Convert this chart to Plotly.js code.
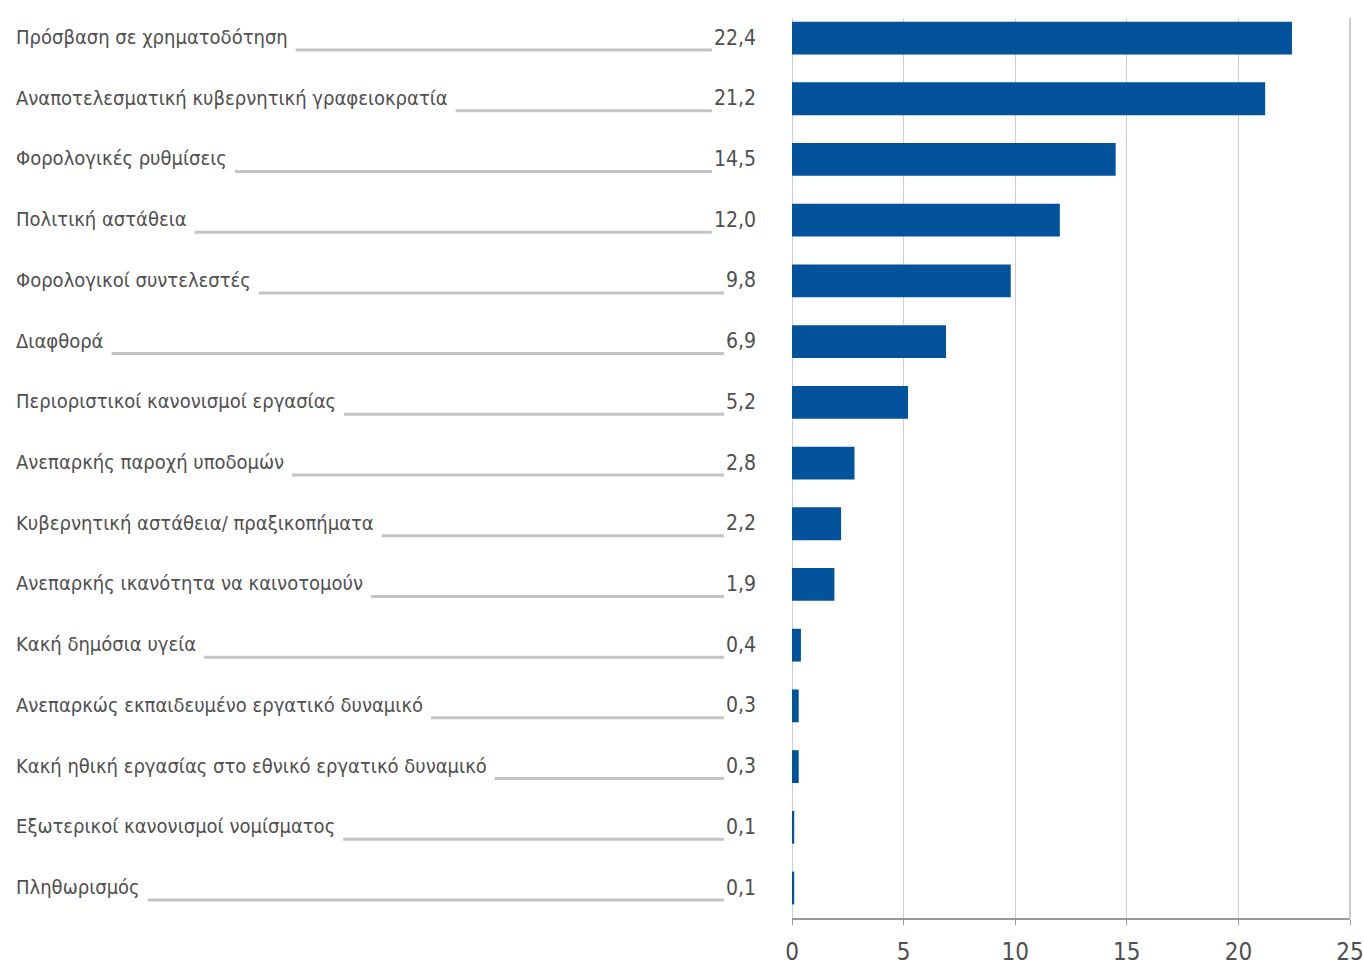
<!DOCTYPE html>
<html>
<head>
<meta charset="utf-8">
<script src="https://cdn.plot.ly/plotly-3.0.1.min.js"></script>
<style>html,body{margin:0;padding:0;background:#fff;}#chart{width:1364px;height:976px;}</style>
</head>
<body>
<div id="chart"></div>
<script>
const categories = [
  "Πρόσβαση σε χρηματοδότηση",
  "Αναποτελεσματική κυβερνητική γραφειοκρατία",
  "Φορολογικές ρυθμίσεις",
  "Πολιτική αστάθεια",
  "Φορολογικοί συντελεστές",
  "Διαφθορά",
  "Περιοριστικοί κανονισμοί εργασίας",
  "Ανεπαρκής παροχή υποδομών",
  "Κυβερνητική αστάθεια/ πραξικοπήματα",
  "Ανεπαρκής ικανότητα να καινοτομούν",
  "Κακή δημόσια υγεία",
  "Ανεπαρκώς εκπαιδευμένο εργατικό δυναμικό",
  "Κακή ηθική εργασίας στο εθνικό εργατικό δυναμικό",
  "Εξωτερικοί κανονισμοί νομίσματος",
  "Πληθωρισμός"
];
const values = [22.4, 21.2, 14.5, 12.0, 9.8, 6.9, 5.2, 2.8, 2.2, 1.9, 0.4, 0.3, 0.3, 0.1, 0.1];
const xTicks = [0, 5, 10, 15, 20, 25];

const W = 1364, H = 976;
const mL = 792, mR = 14, mT = 18, mB = 58;
const plotW = W - mL - mR;
const FONT = "'Liberation Sans Narrow', 'DejaVu Sans Condensed', 'Roboto Condensed', sans-serif";
const TXT = "#4f4f4f";

const canvas = document.createElement('canvas');
const ctx = canvas.getContext('2d');
function measure(t, size) { ctx.font = size + "px " + FONT; return ctx.measureText(t).width; }

// fit label font size so the longest-reference label matches its width in the picture
let labelSize = Math.min(28, 100 * 432 / measure(categories[1], 100));
let valSize = labelSize + 1;

const labelLeftPx = 14, valueRightPx = 758;
const toPaper = px => (px - mL) / plotW;
const fmt = v => v.toFixed(1).replace('.', ',');

const annotations = [], shapes = [];
categories.forEach((c, i) => {
  annotations.push({xref: 'paper', yref: 'y', x: toPaper(labelLeftPx), y: c, text: c, showarrow: false,
    xanchor: 'left', yanchor: 'middle', yshift: 1, font: {family: FONT, size: labelSize, color: TXT}});
  const vt = fmt(values[i]);
  annotations.push({xref: 'paper', yref: 'y', x: toPaper(valueRightPx), y: c, text: vt, showarrow: false,
    xanchor: 'right', yanchor: 'middle', yshift: 1, font: {family: FONT, size: valSize, color: TXT}});
  const x0 = labelLeftPx + measure(c, labelSize) + 10;
  const x1 = valueRightPx - measure(vt, valSize) - 4;
  shapes.push({type: 'line', xref: 'paper', yref: 'y', ysizemode: 'pixel', yanchor: c,
    x0: toPaper(x0), x1: toPaper(x1), y0: -12, y1: -12, line: {color: '#c4c4c4', width: 3}});
});
// gridline at the right end of the axis (paper x = 1, i.e. the last tick), drawn like the others
shapes.push({type: 'line', xref: 'paper', yref: 'paper', x0: 1, x1: 1,
  y0: 0, y1: 1, layer: 'below', line: {color: '#bdbdbd', width: 1.5}});

const trace = {
  type: 'bar', orientation: 'h', x: values, y: categories,
  marker: {color: '#03529c'}, hoverinfo: 'x+y'
};
const layout = {
  width: W, height: H,
  margin: {l: mL, r: mR, t: mT, b: mB, pad: 0},
  paper_bgcolor: '#fff', plot_bgcolor: '#fff',
  showlegend: false, bargap: 0.46,
  xaxis: {range: [0, 25], tickvals: xTicks, ticktext: xTicks.map(String), showgrid: true,
    gridcolor: '#cfcfcf', gridwidth: 1, zeroline: true, zerolinecolor: '#cfcfcf', zerolinewidth: 1,
    showline: true, linecolor: '#9a9a9a', linewidth: 2, ticks: 'outside', ticklen: 5, tickcolor: '#9a9a9a',
    ticklabelstandoff: 6,
    tickfont: {family: FONT, size: 24, color: TXT}, fixedrange: true},
  yaxis: {type: 'category', categoryorder: 'array', categoryarray: categories,
    range: [14.494, -0.33], showticklabels: false, showgrid: false, zeroline: false, showline: false, ticks: ''},
  annotations: annotations, shapes: shapes
};
Plotly.newPlot('chart', [trace], layout, {displayModeBar: false, staticPlot: true});
</script>
</body>
</html>
